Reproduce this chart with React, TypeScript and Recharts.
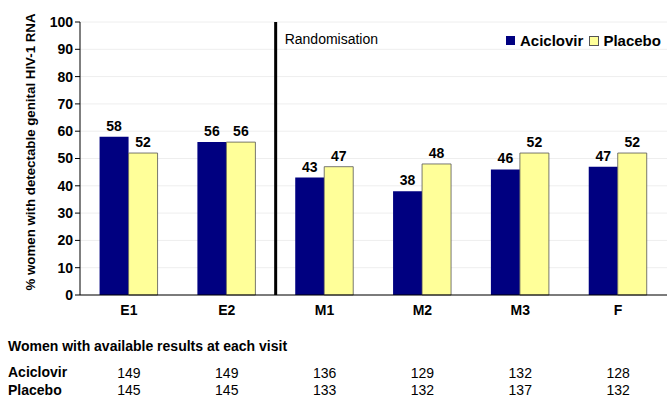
import { BarChart, Bar, XAxis, YAxis, CartesianGrid, ReferenceLine, LabelList } from "recharts";

const visits = ["E1", "E2", "M1", "M2", "M3", "F"];
const aciclovir = [58, 56, 43, 38, 46, 47];
const placebo = [52, 56, 47, 48, 52, 52];
const nAciclovir = [149, 149, 136, 129, 132, 128];
const nPlacebo = [145, 145, 133, 132, 137, 132];
const yTicks = [0, 10, 20, 30, 40, 50, 60, 70, 80, 90, 100];

const NAVY = "#000080";
const YELLOW = "#FFFF99";
const FONT = "Arial, 'Liberation Sans', Helvetica, sans-serif";

const data = visits.map((v, i) => ({
  visit: v,
  aciclovir: aciclovir[i],
  placebo: placebo[i],
  nA: nAciclovir[i],
  nP: nPlacebo[i],
}));

const CountTick = (field: "nA" | "nP", dy: number) => (props: any) => {
  const { x, y, index } = props;
  return (
    <text x={x} y={y + dy} textAnchor="middle" fontSize={14} fontFamily={FONT} fill="#000">
      {data[index][field]}
    </text>
  );
};

const VisitTick = (props: any) => {
  const { x, y, payload } = props;
  return (
    <text x={x} y={y + 12} textAnchor="middle" fontSize={14} fontWeight="bold" fontFamily={FONT} fill="#000">
      {payload.value}
    </text>
  );
};

const YLabel = () => (
  <text
    x={0}
    y={0}
    transform="translate(35, 152) rotate(-90)"
    textAnchor="middle"
    fontSize={13.3}
    fontWeight="bold"
    fontFamily={FONT}
    fill="#000"
  >
    % women with detectable genital HIV-1 RNA
  </text>
);

export default function App() {
  return (
    <div style={{ position: "absolute", left: 0, top: 0, width: 670, height: 400, background: "#fff", fontFamily: FONT }}>
      <BarChart
        width={670}
        height={400}
        data={data}
        margin={{ top: 22, right: 3, left: 0, bottom: 0 }}
        barCategoryGap="20%"
        barGap={0}
      >
        <CartesianGrid vertical={false} stroke="#eeeeee" />
        <XAxis
          dataKey="visit"
          height={35}
          axisLine={{ stroke: "#000" }}
          tickLine={false}
          tick={VisitTick}
        />
        <XAxis
          xAxisId="na"
          dataKey="visit"
          height={50}
          axisLine={false}
          tickLine={false}
          tickSize={0}
          tickMargin={0}
          tick={CountTick("nA", 48)}
        />
        <XAxis
          xAxisId="np"
          dataKey="visit"
          height={20}
          axisLine={false}
          tickLine={false}
          tickSize={0}
          tickMargin={0}
          tick={CountTick("nP", 15)}
        />
        <YAxis
          width={80}
          domain={[0, 100]}
          ticks={yTicks}
          interval={0}
          axisLine={{ stroke: "#000" }}
          tickLine={{ stroke: "#000" }}
          tickSize={5}
          tick={{ fontSize: 14, fontWeight: "bold", fill: "#000", fontFamily: FONT }}
          label={<YLabel />}
        />
        <Bar dataKey="aciclovir" fill={NAVY} isAnimationActive={false}>
          <LabelList dataKey="aciclovir" position="top" offset={6} style={{ fontSize: 14, fontWeight: "bold", fill: "#000", fontFamily: FONT }} />
        </Bar>
        <Bar dataKey="placebo" fill={YELLOW} stroke="#555" strokeWidth={0.8} isAnimationActive={false}>
          <LabelList dataKey="placebo" position="top" offset={6} style={{ fontSize: 14, fontWeight: "bold", fill: "#000", fontFamily: FONT }} />
        </Bar>
        <ReferenceLine
          x="M1"
          position="start"
          stroke="#000"
          strokeWidth={3}
          label={(p: any) => (
            <text x={p.viewBox.x + 9} y={p.viewBox.y + 22} fontSize={14} fontFamily={FONT} fill="#000">
              Randomisation
            </text>
          )}
        />
      </BarChart>
      <div style={{ position: "absolute", left: 506, top: 32, display: "flex", alignItems: "center", fontSize: 15, fontWeight: "bold" }}>
        <span style={{ width: 9, height: 9, background: NAVY, display: "inline-block", marginRight: 5 }} />
        <span style={{ marginRight: 6 }}>Aciclovir</span>
        <span style={{ width: 8, height: 8, background: YELLOW, border: "1px solid #555", display: "inline-block", marginRight: 4 }} />
        <span>Placebo</span>
      </div>
      <div style={{ position: "absolute", left: 8, top: 338, fontSize: 14, fontWeight: "bold" }}>
        Women with available results at each visit
      </div>
      <div style={{ position: "absolute", left: 8, top: 364, fontSize: 14, fontWeight: "bold" }}>Aciclovir</div>
      <div style={{ position: "absolute", left: 8, top: 382, fontSize: 14, fontWeight: "bold" }}>Placebo</div>
    </div>
  );
}
